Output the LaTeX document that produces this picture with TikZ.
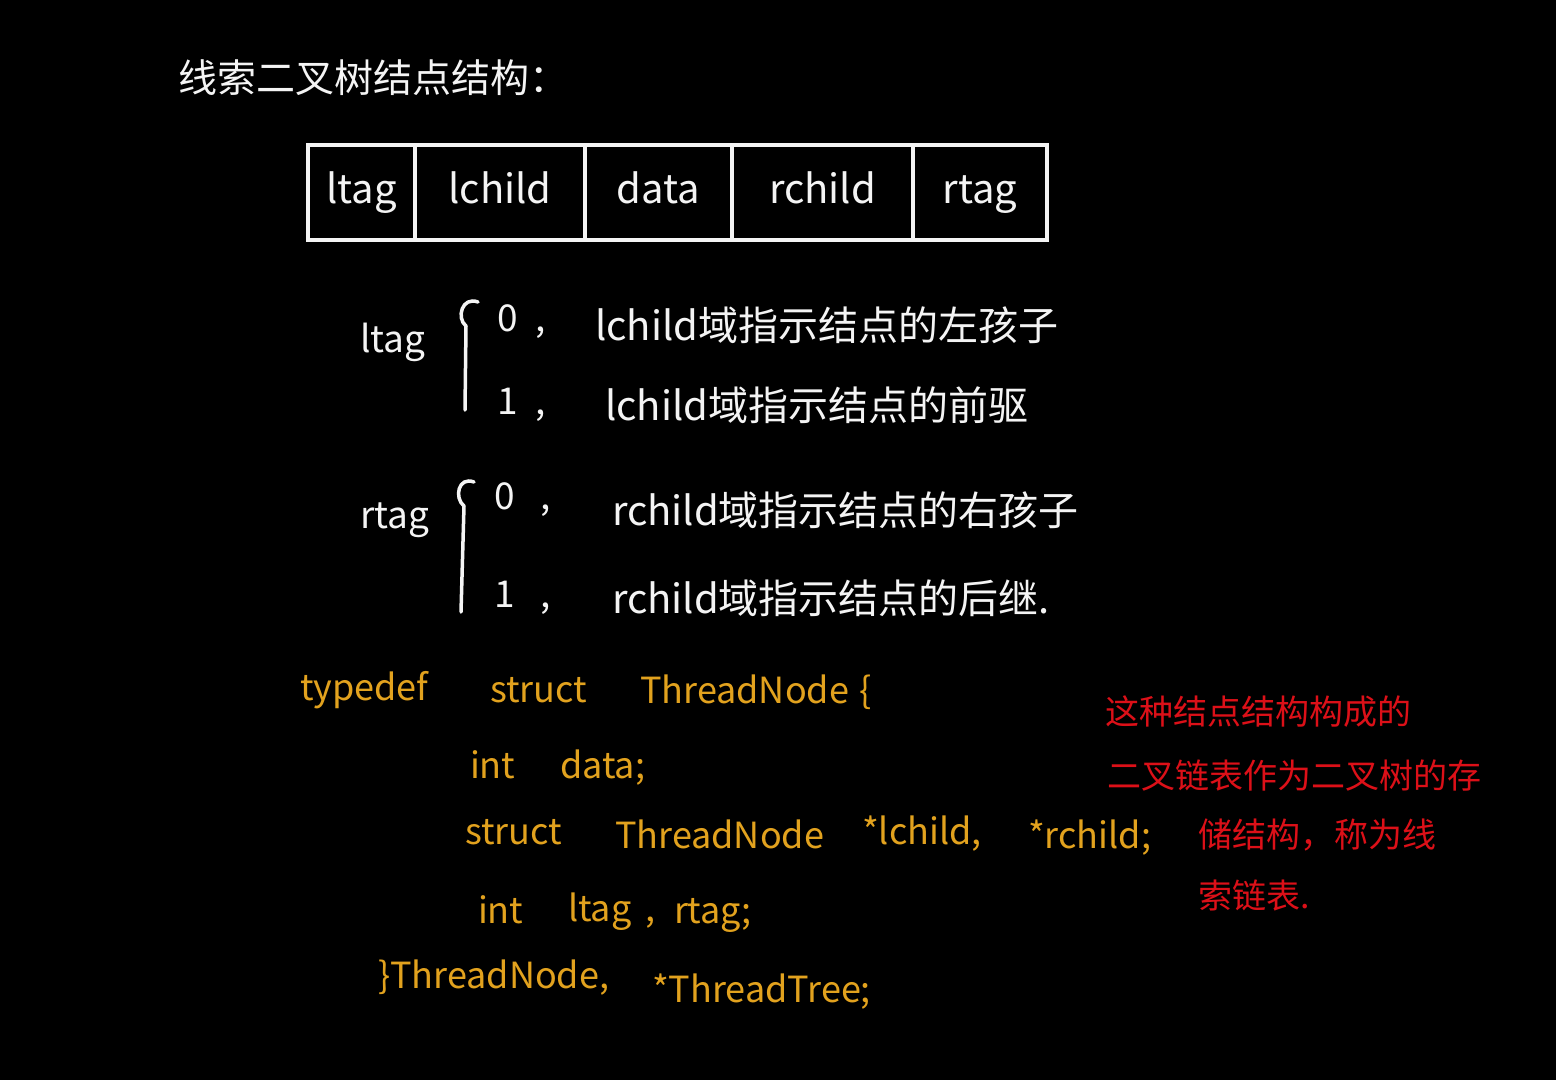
\documentclass[tikz,border=0pt]{standalone}
\usepackage{fontspec}
\setmainfont{Noto Sans CJK SC}
\definecolor{chalk}{HTML}{F4F4F4}
\definecolor{codeorange}{HTML}{E2A21E}
\definecolor{notered}{HTML}{DC1018}
\begin{document}
\begin{tikzpicture}[x=1pt,y=-1pt,
  every node/.style={inner sep=0pt,outer sep=0pt},
  title/.style={anchor=west,text=chalk,font=\fontsize{39}{42}\selectfont},
  cell/.style={draw=chalk,line width=3.5pt,minimum height=95pt,text=chalk,font=\fontsize{40}{44}\selectfont,anchor=north west,text height=30pt,text depth=8pt},
  wtext/.style={anchor=west,text=chalk,font=\fontsize{37}{40}\selectfont},
  wlong/.style={anchor=west,text=chalk,font=\fontsize{40}{44}\selectfont},
  code/.style={anchor=west,text=codeorange,font=\fontsize{36}{40}\selectfont},
  note/.style={anchor=west,text=notered,font=\fontsize{34}{36}\selectfont},
  bracepath/.style={draw=chalk,line width=3.5pt,line cap=round,line join=round}]
\fill[black] (0,0) rectangle (1556,1080);
\useasboundingbox (0,0) rectangle (1556,1080);

% title
\node[title] (t) at (178,78) {线索二叉树结点结构：};

% node structure table
\node[cell,minimum width=107pt] (c1) at (308,145) {ltag};
\node[cell,minimum width=170pt] (c2) at (c1.north east) {lchild};
\node[cell,minimum width=147pt] (c3) at (c2.north east) {data};
\node[cell,minimum width=181pt] (c4) at (c3.north east) {rchild};
\node[cell,minimum width=134pt] (c5) at (c4.north east) {rtag};

% ltag
\node[wtext] (lt) at (360,342) {ltag};
\draw[bracepath] (478,302) .. controls (462,296) and (456,318) .. (466,326) -- (465,410);
\node[wtext] (l0) at (497,322) {0\hspace{18pt},};
\node[wlong] (l0t) at (595,325) {lchild域指示结点的左孩子};
\node[wtext] (l1) at (497,405) {1\hspace{18pt},};
\node[wlong] (l1t) at (605,405) {lchild域指示结点的前驱};

% rtag
\node[wtext] (rt) at (360,520) {rtag};
\draw[bracepath] (474,482) .. controls (458,476) and (454,498) .. (464,506) -- (461,612);
\node[wtext] (r0) at (494,500) {0\hspace{26pt},};
\node[wlong] (r0t) at (612,510) {rchild域指示结点的右孩子};
\node[wtext] (r1) at (494,598) {1\hspace{26pt},};
\node[wlong] (r1t) at (612,598) {rchild域指示结点的后继.};

% code
\node[code] (k1a) at (300,690) {typedef};
\node[code] (k1b) at (490,690) {struct};
\node[code] (k1c) at (640,692) {ThreadNode\hspace{10pt}\{};
\node[code] (k2a) at (470,765) {int};
\node[code] (k2b) at (560,768) {data;};
\node[code] (k3a) at (465,832) {struct};
\node[code] (k3b) at (615,834) {ThreadNode};
\node[code] (k3c) at (862,834) {*lchild,};
\node[code] (k3d) at (1028,838) {*rchild;};
\node[code] (k4a) at (478,910) {int};
\node[code] (k4b) at (568,912) {ltag\hspace{14pt},};
\node[code] (k4c) at (674,915) {rtag;};
\node[code] (k5a) at (378,978) {\}ThreadNode,};
\node[code] (k5b) at (652,992) {*ThreadTree;};

% red note
\node[note] (n1) at (1105,712) {这种结点结构构成的};
\node[note] (n2) at (1107,775) {二叉链表作为二叉树的存};
\node[note] (n3) at (1198,835) {储结构，称为线};
\node[note] (n4) at (1198,895) {索链表.};
\end{tikzpicture}
\end{document}
